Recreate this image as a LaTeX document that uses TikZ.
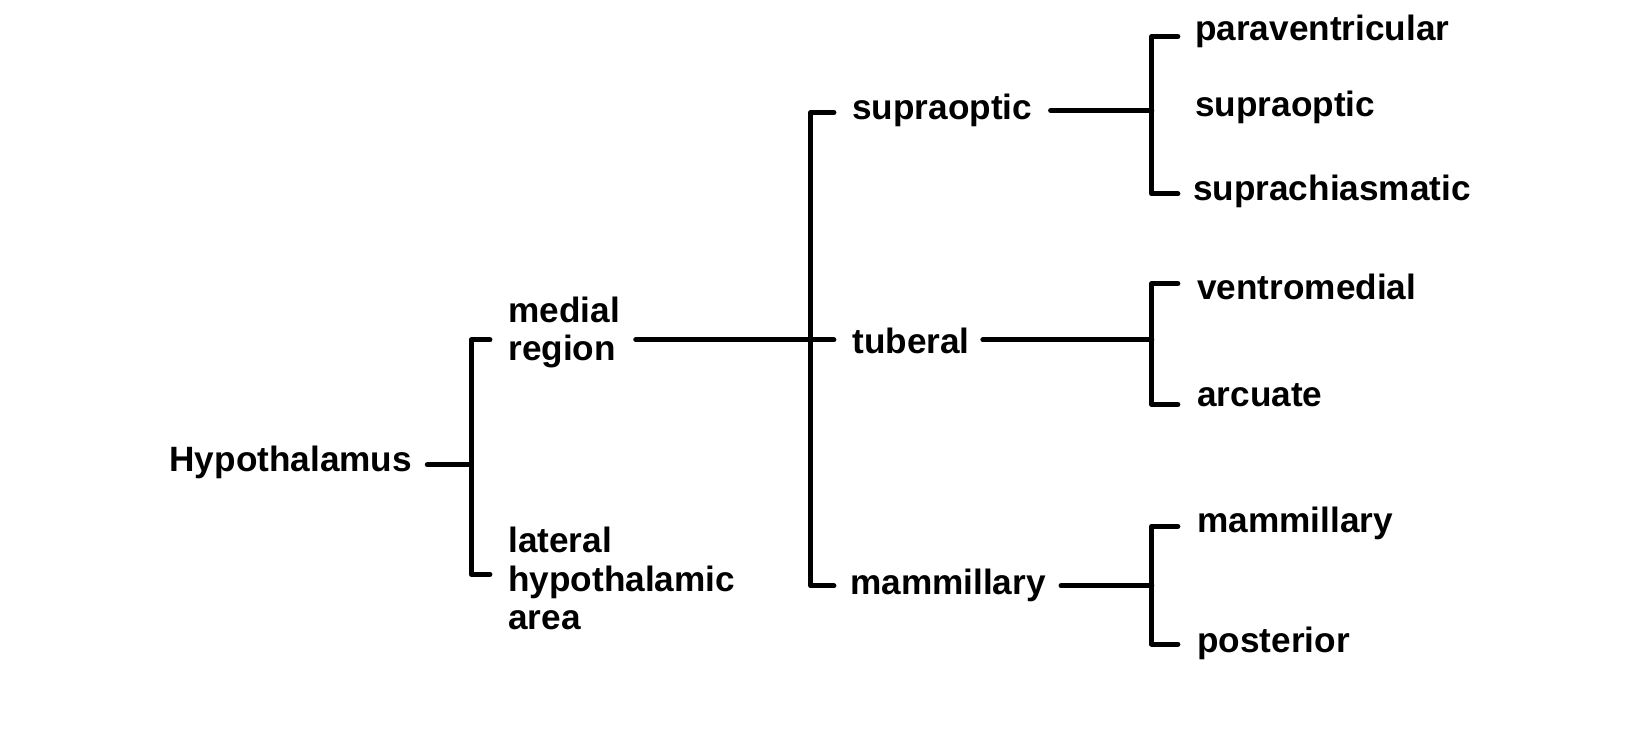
\documentclass[tikz,border=0pt]{standalone}
\usepackage{fontspec}
\setmainfont{Liberation Sans}
\begin{document}
\begin{tikzpicture}[x=0.01cm,y=-0.01cm,
  lbl/.style={anchor=west,inner sep=0pt,font=\fontsize{9.6}{11.5}\selectfont\bfseries,align=left},
  ln/.style={line width=1.4pt,line cap=round,line join=round}]
\useasboundingbox (0,0) rectangle (1560,699);
\node[lbl] (hyp) at (162,444) {Hypothalamus};
\node[lbl] (med) at (487,319) {medial\\[-1pt]region};
\node[lbl] (lat) at (487,555) {lateral\\[-1pt]hypothalamic\\[-1pt]area};
\node[lbl] (so) at (817,106) {supraoptic};
\node[lbl] (tub) at (817,327) {tuberal};
\node[lbl] (mam) at (815,562) {mammillary};
\node[lbl] (pv) at (1146,30) {paraventricular};
\node[lbl] (so2) at (1146,103) {supraoptic};
\node[lbl] (sc) at (1144,184) {suprachiasmatic};
\node[lbl] (vm) at (1148,275) {ventromedial};
\node[lbl] (arc) at (1148,379) {arcuate};
\node[lbl] (mam2) at (1148,502) {mammillary};
\node[lbl] (post) at (1148,617) {posterior};
% level 1
\coordinate (b1) at (452,446);
\draw[ln] (410,446) -- (b1);
\draw[ln] (470,326) -- (452,326) -- (452,551) -- (470,551);
% level 2
\coordinate (b2) at (778,326);
\draw[ln] (610,326) -- (800,326);
\draw[ln] (800,108) -- (778,108) -- (778,562) -- (800,562);
% level 3
\draw[ln] (1008,106) -- (1105,106);
\draw[ln] (1130,35) -- (1105,35) -- (1105,186) -- (1130,186);
\draw[ln] (943,326) -- (1105,326);
\draw[ln] (1130,272) -- (1105,272) -- (1105,388) -- (1130,388);
\draw[ln] (1018,562) -- (1105,562);
\draw[ln] (1130,505) -- (1105,505) -- (1105,618) -- (1130,618);
\end{tikzpicture}
\end{document}
